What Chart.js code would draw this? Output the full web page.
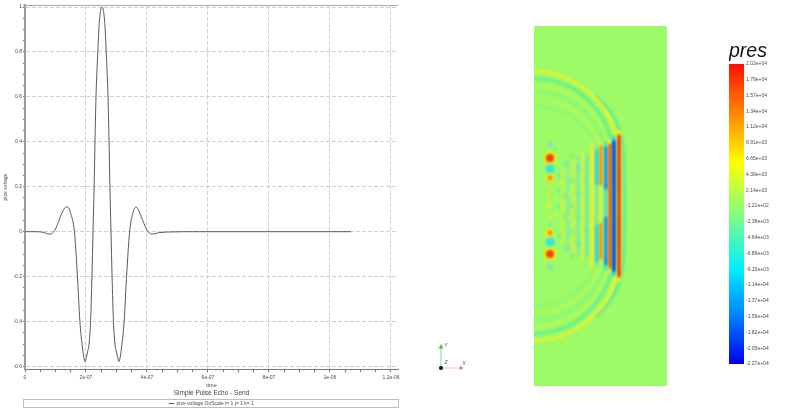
<!DOCTYPE html>
<html>
<head>
<meta charset="utf-8">
<script src="https://cdn.jsdelivr.net/npm/chart.js@4/dist/chart.umd.min.js"></script>
<style>
  html, body { margin: 0; background: #fff; overflow: hidden; }
  canvas { position: absolute; }
</style>
</head>
<body>
<canvas id="pulseChart" width="405" height="416" style="left:0;top:0"></canvas>
<canvas id="triadChart" width="50" height="45" style="left:425px;top:335px"></canvas>
<canvas id="fieldChart" width="133" height="360" style="left:534px;top:26px"></canvas>
<canvas id="barChart" width="71" height="335" style="left:729px;top:40px"></canvas>
<script>
// Pulse signal
const pulseTime = [0, 0.4, 0.6, 0.82, 0.9, 1.0, 1.1, 1.2, 1.3, 1.4, 1.5, 1.62, 1.72, 1.8, 1.87, 1.93, 1.97, 2.01, 2.06, 2.1, 2.15, 2.195, 2.23, 2.263, 2.295, 2.328, 2.36, 2.394, 2.43, 2.48, 2.525, 2.57, 2.62, 2.656, 2.69, 2.722, 2.755, 2.787, 2.82, 2.855, 2.9, 2.95, 2.99, 3.04, 3.08, 3.12, 3.18, 3.25, 3.33, 3.43, 3.53, 3.64, 3.74, 3.86, 4.03, 4.2, 4.4, 4.8, 5.5, 10.69];
const pulseVolt = [0, 0, -0.003, -0.011, -0.006, 0.012, 0.045, 0.08, 0.105, 0.11, 0.08, 0, -0.2, -0.4, -0.5, -0.56, -0.578, -0.56, -0.53, -0.5, -0.4, -0.2, 0, 0.18, 0.4, 0.6, 0.72, 0.82, 0.92, 0.985, 1, 0.985, 0.92, 0.82, 0.72, 0.6, 0.4, 0.18, 0, -0.2, -0.4, -0.5, -0.53, -0.56, -0.578, -0.56, -0.5, -0.4, -0.2, 0, 0.08, 0.11, 0.09, 0.05, 0, -0.01, -0.004, -0.001, 0, 0];

// Colour bar
const barMin = -22700;
const barMax = 20200;
const barTickValues = [20200, 17900, 15700, 13400, 11200, 8910, 6650, 4390, 2140, -121, -2380, -4640, -6890, -9150, -11400, -13700, -15900, -18200, -20500, -22700];
const barTickLabels = ["2.02e+04", "1.79e+04", "1.57e+04", "1.34e+04", "1.12e+04", "8.91e+03", "6.65e+03", "4.39e+03", "2.14e+03", "-1.21e+02", "-2.38e+03", "-4.64e+03", "-6.89e+03", "-9.15e+03", "-1.14e+04", "-1.37e+04", "-1.59e+04", "-1.82e+04", "-2.05e+04", "-2.27e+04"];

// Pressure field, wave fronts (top arc and bottom arc share x)
const arc1X = [0, 22, 42, 60, 74, 82, 85];
const arc1Top = [45, 48, 57, 71, 89, 111, 134];
const arc1Bot = [315, 312, 303, 289, 271, 249, 226];
const arc2X = [0, 20, 40, 56, 69, 77, 80];
const arc2Top = [52, 55, 63, 76, 93, 113, 134];
const arc2Bot = [308, 305, 297, 284, 267, 247, 226];
const arc3X = [0, 20, 38, 54, 66, 73, 76];
const arc3Top = [59, 62, 69, 81, 96, 115, 134];
const arc3Bot = [301, 298, 291, 279, 264, 245, 226];
const arc4X = [0, 19, 36, 51, 62, 70, 72];
const arc4Top = [66, 68, 75, 86, 100, 116, 134];
const arc4Bot = [294, 292, 285, 274, 260, 244, 226];
const arc5X = [0, 17, 33, 47, 58, 65, 67];
const arc5Top = [73, 75, 81, 91, 103, 118, 134];
const arc5Bot = [287, 285, 279, 269, 257, 242, 226];
const arc6X = [0, 16, 31, 45, 55, 61, 63];
const arc6Top = [80, 82, 87, 96, 107, 120, 134];
const arc6Bot = [280, 278, 273, 264, 253, 240, 226];
const arc7X = [62, 78, 87, 90, 90, 87, 78, 62];
const arc7Y = [70, 88, 110, 134, 226, 250, 272, 290];

// Straight part of the fronts, some are two lobes with a weak middle
const stripeX = [85, 80, 76, 72, 72, 67, 67, 63, 63, 58, 53, 49, 44, 39, 34, 29];
const stripeTop = [110, 116, 119, 122, 192, 121, 198, 125, 200, 122, 130, 128, 132, 132, 136, 140];
const stripeBot = [250, 244, 241, 162, 238, 158, 232, 158, 235, 238, 230, 232, 228, 228, 224, 220];
const stripeCore = ["#e8200c", "#0c3cd8", "#ee4c14", "#1c84ec", "#1c84ec", "#f08a1c", "#f08a1c", "#28d0e4", "#28d0e4", "#e8ee30", "#70e8b0", "#d8f040", "#80eaa8", "#c8f24c", "#88eca0", "#c0f450"];
const glowX = [85, 80, 76, 72, 67, 63, 58];
const glowTop = [106, 112, 115, 118, 118, 122, 118];
const glowBot = [254, 248, 245, 242, 236, 238, 242];
const glowCol = ["#e8f028", "#20d8f0", "#e4f030", "#48e4d0", "#d8f238", "#78ecaa", "#c4f44c"];

// Spots near the source and the interference pattern
const spotX = [16, 16, 16, 16, 16, 16, 16, 15, 15, 17, 15, 16, 16, 16, 16, 16, 16];
const spotY = [119, 132, 132, 143, 152, 152, 162, 169, 180, 191, 207, 207, 216, 228, 228, 241, 198];
const spotR = [3, 6.5, 4, 4.5, 4.5, 2.4, 2, 2, 2.5, 2, 4.5, 2.4, 4.5, 6.5, 4, 3, 2];
const spotCol = ["#80e8b0", "#f2ea20", "#f0400e", "#38e4dc", "#f4e820", "#f28a18", "#dcee38", "#e8ee30", "#e8ee30", "#e8ee30", "#f4e820", "#f28a18", "#38e4dc", "#f2ea20", "#f0400e", "#80e8b0", "#80e8b0"];
const tealX = [25, 25, 31, 31, 31, 31, 38, 38, 38, 38, 38, 45, 45, 45, 45, 24, 24, 52, 52];
const tealY = [150, 210, 138, 170, 190, 222, 130, 155, 180, 205, 230, 142, 168, 192, 218, 180, 165, 155, 205];
const yellowX = [22, 22, 28, 28, 28, 35, 35, 35, 35, 42, 42, 42, 49, 49];
const yellowY = [172, 188, 155, 180, 205, 145, 168, 192, 215, 135, 180, 225, 155, 205];

// Axis triad
const triadYX = [16, 16];
const triadYY = [33, 12];
const triadXX = [16, 36];
const triadXY = [33, 33];
const triadLabels = ["Y", "Z", "X"];
const triadLabelX = [21, 21, 39];
const triadLabelY = [11, 28, 29];

const zip = (xs, ys) => xs.map((x, i) => ({ x, y: ys[i] }));
const FONT = "'Liberation Sans', Arial, sans-serif";
const TEXT = "#4a4a4a";
Chart.defaults.devicePixelRatio = 1;
Chart.defaults.animation = false;
Chart.defaults.responsive = false;
Chart.defaults.font.family = FONT;

// Every 0.05 / 5e-8 gets a tick, only the round ones get a label and grid line
function isMajor(v, step) {
  return Math.abs(v / step - Math.round(v / step)) < 1e-6;
}
function tickList(from, to, n) {
  const out = [];
  for (let i = 0; i <= n; i++) out.push({ value: from + (to - from) * i / n });
  return out;
}

const frame = {
  id: "frame",
  afterDraw(chart) {
    const { ctx, chartArea, legend } = chart;
    ctx.save();
    ctx.strokeStyle = "#a8a8a8";
    ctx.lineWidth = 1;
    ctx.beginPath();
    ctx.moveTo(23, chartArea.top + 0.5);
    ctx.lineTo(chartArea.right, chartArea.top + 0.5);
    ctx.stroke();
    ctx.strokeStyle = "#bdbdbd";
    ctx.strokeRect(23.5, legend.top + 0.5, 375, 8);
    ctx.restore();
  }
};

new Chart(document.getElementById("pulseChart"), {
  type: "scatter",
  data: {
    datasets: [{
      label: "pize voltage OnScale i= 1 j= 1 k= 1",
      data: zip(pulseTime.map(t => t * 1e-7), pulseVolt),
      showLine: true,
      pointRadius: 0,
      borderColor: "#5a5a5a",
      backgroundColor: "#5a5a5a",
      borderWidth: 1,
      cubicInterpolationMode: "monotone"
    }]
  },
  options: {
    layout: { autoPadding: false, padding: { top: 5, right: 7, bottom: 0, left: 0 } },
    plugins: {
      tooltip: { enabled: false },
      title: {
        display: true,
        position: "bottom",
        fullSize: false,
        weight: 500,
        text: "Simple Pulse Echo - Send",
        color: "#444",
        font: { size: 6.5, weight: "normal" },
        padding: { top: 0, bottom: 2 }
      },
      legend: {
        position: "bottom",
        fullSize: false,
        labels: {
          color: TEXT,
          font: { size: 5 },
          usePointStyle: true,
          pointStyle: "line",
          boxWidth: 6,
          boxHeight: 4,
          padding: 2
        }
      }
    },
    scales: {
      x: {
        type: "linear",
        min: 0,
        max: 1.223e-6,
        afterBuildTicks: s => { s.ticks = tickList(0, 1.2e-6, 24); },
        afterFit: s => { s.height = 20; },
        title: { display: true, text: "time", color: TEXT, font: { size: 5.5 }, padding: 0 },
        border: { display: true, color: "#777", dash: [4, 2] },
        grid: {
          color: c => isMajor(c.tick.value, 2e-7) ? "#d0d0d0" : "transparent",
          tickColor: "#777",
          tickLength: 3
        },
        ticks: {
          autoSkip: false,
          maxRotation: 0,
          padding: 2,
          color: TEXT,
          font: { size: 5 },
          callback: v => {
            if (!isMajor(v, 2e-7)) return "";
            const n = Math.round(v / 2e-7);
            return ["0", "2e-07", "4e-07", "6e-07", "8e-07", "1e-06", "1.2e-06"][n];
          }
        }
      },
      y: {
        min: -0.612,
        max: 1.009,
        afterBuildTicks: s => { s.ticks = tickList(-0.6, 1, 32); },
        afterFit: s => { s.width = 25; },
        title: { display: true, text: "pize voltage", color: TEXT, font: { size: 5 }, padding: { top: 3, bottom: 0 } },
        border: { display: true, color: "#9a9a9a", width: 2, dash: [4, 2] },
        grid: {
          color: c => isMajor(c.tick.value, 0.2) ? "#d0d0d0" : "transparent",
          tickColor: "#777",
          tickLength: 2
        },
        ticks: {
          autoSkip: false,
          padding: 1,
          color: TEXT,
          font: { size: 5 },
          callback: v => isMajor(v, 0.2) ? String(+v.toFixed(1)) : ""
        }
      }
    }
  },
  plugins: [frame]
});

// Small text labels at the triad axis ends
const triadText = {
  id: "triadText",
  afterDatasetsDraw(chart) {
    const { ctx, scales } = chart;
    ctx.save();
    ctx.font = "italic 5px " + FONT;
    ctx.fillStyle = "#555";
    ctx.textAlign = "center";
    ctx.textBaseline = "middle";
    triadLabels.forEach((t, i) => {
      ctx.fillText(t, scales.x.getPixelForValue(triadLabelX[i]), scales.y.getPixelForValue(triadLabelY[i]));
    });
    ctx.restore();
  }
};

new Chart(document.getElementById("triadChart"), {
  type: "scatter",
  data: {
    datasets: [
      { data: zip([16], [33]), pointRadius: 2, backgroundColor: "#101040" },
      { data: zip(triadYX, triadYY), showLine: true, borderColor: "#8ecf8e", borderWidth: 1,
        pointRadius: [0, 2.5], pointStyle: "triangle", backgroundColor: "#4fa04f" },
      { data: zip(triadXX, triadXY), showLine: true, borderColor: "#f0c4c4", borderWidth: 1,
        pointRadius: [0, 2.5], pointStyle: "triangle", pointRotation: 90, backgroundColor: "#c85a5a" }
    ]
  },
  options: {
    layout: { autoPadding: false, padding: 0 },
    plugins: { legend: { display: false }, tooltip: { enabled: false } },
    scales: {
      x: { display: false, min: 0, max: 50 },
      y: { display: false, min: 0, max: 45, reverse: true }
    }
  },
  plugins: [triadText]
});

// Field picture, soft edges like the original render
const fieldBack = {
  id: "fieldBack",
  beforeDraw(chart) {
    chart.ctx.fillStyle = "#9cfb66";
    chart.ctx.fillRect(0, 0, chart.width, chart.height);
  },
  beforeDatasetsDraw(chart) {
    chart.ctx.save();
    chart.ctx.filter = "blur(1.1px)";
  },
  afterDatasetsDraw(chart) {
    chart.ctx.restore();
  }
};

function front(xs, ys, color, width) {
  return { data: zip(xs, ys), showLine: true, pointRadius: 0, borderColor: color, borderWidth: width, borderCapStyle: "round", tension: 0.4, clip: false };
}
function spots(xs, ys, radius, color) {
  return { data: zip(xs, ys), pointRadius: radius, backgroundColor: color, borderWidth: 0, pointHoverRadius: radius };
}

const fieldSets = [
  spots(spotX, spotY, spotR, spotCol),
  spots(tealX, tealY, 2.2, "rgba(96,232,180,0.6)"),
  spots(yellowX, yellowY, 2, "rgba(226,240,60,0.6)")
];
// first dataset is painted last, so cores go in before their glow
stripeX.forEach((x, i) => {
  fieldSets.push(front([x, x], [stripeTop[i], stripeBot[i]], stripeCore[i], 3));
});
glowX.forEach((x, i) => {
  fieldSets.push(front([x, x], [glowTop[i], glowBot[i]], glowCol[i], 4.5));
});
[
  [arc1X, arc1Top, arc1Bot, "rgba(240,240,40,0.85)", 3.2],
  [arc2X, arc2Top, arc2Bot, "rgba(70,230,170,0.6)", 3.2],
  [arc3X, arc3Top, arc3Bot, "rgba(226,242,60,0.32)", 3],
  [arc4X, arc4Top, arc4Bot, "rgba(90,232,170,0.28)", 3],
  [arc5X, arc5Top, arc5Bot, "rgba(216,244,70,0.28)", 3],
  [arc6X, arc6Top, arc6Bot, "rgba(100,234,160,0.2)", 3]
].forEach(a => {
  fieldSets.push(front(a[0], a[1], a[3], a[4]));
  fieldSets.push(front(a[0], a[2], a[3], a[4]));
});
fieldSets.push(front(arc7X, arc7Y, "rgba(70,226,180,0.65)", 3));

new Chart(document.getElementById("fieldChart"), {
  type: "scatter",
  data: { datasets: fieldSets },
  options: {
    layout: { autoPadding: false, padding: 0 },
    plugins: { legend: { display: false }, tooltip: { enabled: false } },
    scales: {
      x: { display: false, min: 0, max: 133 },
      y: { display: false, min: 0, max: 360, reverse: true }
    }
  },
  plugins: [fieldBack]
});

function jet(ctx) {
  const { chart } = ctx;
  if (!chart.chartArea) return "#9cfb66";
  const a = chart.chartArea;
  const g = chart.ctx.createLinearGradient(0, a.top, 0, a.bottom);
  g.addColorStop(0, "#ff1000");
  g.addColorStop(0.17, "#ff8a00");
  g.addColorStop(0.33, "#ffff00");
  g.addColorStop(0.48, "#90ff70");
  g.addColorStop(0.68, "#00f0ff");
  g.addColorStop(0.84, "#0080ff");
  g.addColorStop(1, "#0000f0");
  return g;
}

new Chart(document.getElementById("barChart"), {
  type: "bar",
  data: {
    labels: ["pres"],
    datasets: [{ data: [[barMin, barMax]], backgroundColor: jet, categoryPercentage: 1, barPercentage: 1, borderSkipped: false }]
  },
  options: {
    layout: { autoPadding: false, padding: { top: 0, bottom: 11, left: 0, right: 0 } },
    plugins: {
      legend: { display: false },
      tooltip: { enabled: false },
      title: {
        display: true,
        text: "pres",
        align: "start",
        color: "#111",
        font: { size: 19.5, style: "italic", weight: "normal" },
        padding: { top: 0, bottom: 0.6 }
      }
    },
    scales: {
      x: { display: false },
      y: {
        position: "right",
        min: barMin,
        max: barMax,
        afterBuildTicks: s => { s.ticks = barTickValues.map(value => ({ value })); },
        afterFit: s => { s.width = 56; },
        border: { display: false },
        grid: { display: false, drawTicks: false },
        ticks: {
          autoSkip: false,
          padding: 2,
          color: TEXT,
          font: { size: 5 },
          callback: (v, i) => barTickLabels[i]
        }
      }
    }
  }
});
</script>
</body>
</html>
